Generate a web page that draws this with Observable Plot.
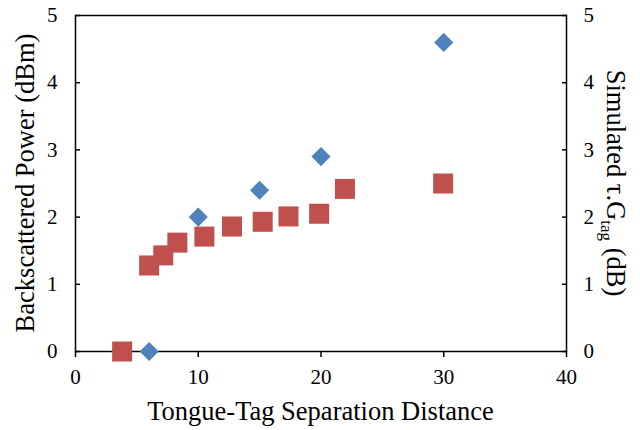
<!DOCTYPE html>
<html><head><meta charset="utf-8">
<script src="https://cdn.jsdelivr.net/npm/d3@7"></script>
<script src="https://cdn.jsdelivr.net/npm/@observablehq/plot@0.6"></script>
<style>body{margin:0;background:#fff} svg text{font-family:"Liberation Serif","DejaVu Serif","Times New Roman",Times,serif !important;}</style>
</head><body><div id="chart"></div>
<script>
const measuredDistance = [6, 10, 15, 20, 30];
const measuredPower = [0, 2.0, 2.4, 2.9, 4.6];
const simulatedDistance = [3.8, 6.0, 7.15, 8.3, 10.5, 12.75, 15.25, 17.35, 19.85, 21.95, 29.95];
const simulatedGain = [0, 1.28, 1.43, 1.62, 1.71, 1.86, 1.93, 2.01, 2.05, 2.42, 2.5];
const xTicks = [0, 10, 20, 30, 40];
const yTicks = [0, 1, 2, 3, 4, 5];
const xTitle = "Tongue-Tag Separation Distance";
const yLeftTitle = "Backscattered Power (dBm)";
const yRightTitleMain = "Simulated τ.G";
const yRightTitleSub = "tag";
const yRightTitleEnd = " (dB)";

const measured = measuredDistance.map((x, i) => ({x, y: measuredPower[i]}));
const simulated = simulatedDistance.map((x, i) => ({x, y: simulatedGain[i]}));

const W = 640, H = 430, mL = 75, mR = 74, mT = 15, mB = 79;
const fontStack = '"Liberation Serif", "DejaVu Serif", "Times New Roman", Times, serif';
const fmt = d => String(d);

const chart = Plot.plot({
  width: W, height: H,
  marginLeft: mL, marginRight: mR, marginTop: mT, marginBottom: mB,
  style: {fontFamily: fontStack, fontSize: "21px", color: "black", background: "white"},
  x: {domain: [0, 40]},
  y: {domain: [0, 5]},
  marks: [
    Plot.frame({stroke: "black", strokeWidth: 1.5}),
    Plot.axisX({ticks: xTicks, tickFormat: fmt, tickSize: 6, tickPadding: 12, label: null, strokeWidth: 1.5}),
    Plot.axisY({ticks: yTicks, tickFormat: fmt, tickSize: 0, tickPadding: 18, label: null}),
    Plot.axisY({ticks: yTicks, tickSize: 5, dx: 5, tickFormat: () => "", label: null, strokeWidth: 1.5}),
    Plot.axisY({ticks: yTicks, tickFormat: fmt, anchor: "right", tickSize: 0, tickPadding: 17, label: null}),
    Plot.axisY({ticks: yTicks, anchor: "right", tickSize: 5, dx: -5, tickFormat: () => "", label: null, strokeWidth: 1.5}),
    Plot.dot(measured, {x: "x", y: "y", symbol: "diamond2", r: 8.6, fill: "#4F81BD"}),
    Plot.dot(simulated, {x: "x", y: "y", symbol: "square", r: 11.3, fill: "#C0504D"})
  ]
});
document.getElementById("chart").append(chart);

const svg = d3.select(chart);
const cy = (mT + (H - mB)) / 2;
const cx = (mL + (W - mR)) / 2;

svg.append("text")
  .attr("x", cx).attr("y", 420)
  .attr("text-anchor", "middle")
  .attr("font-family", fontStack).attr("font-size", 26.5).attr("fill", "black")
  .text(xTitle);

svg.append("text")
  .attr("transform", `translate(34,${cy}) rotate(-90)`)
  .attr("text-anchor", "middle")
  .attr("font-family", fontStack).attr("font-size", 26.5).attr("fill", "black")
  .text(yLeftTitle);

const rt = svg.append("text")
  .attr("transform", `translate(607,${cy}) rotate(90)`)
  .attr("text-anchor", "middle")
  .attr("font-family", fontStack).attr("font-size", 26.5).attr("fill", "black");
rt.append("tspan").text(yRightTitleMain);
rt.append("tspan").attr("dy", 6).attr("font-size", 17).text(yRightTitleSub);
rt.append("tspan").attr("dy", -6).text(yRightTitleEnd);
</script>
</body></html>
